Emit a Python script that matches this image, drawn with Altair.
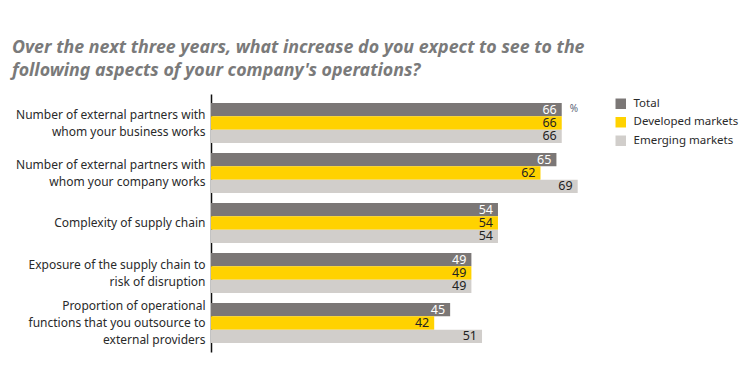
import altair as alt
import pandas as pd

categories = [
    "Number of external partners with|whom your business works",
    "Number of external partners with|whom your company works",
    "Complexity of supply chain",
    "Exposure of the supply chain to|risk of disruption",
    "Proportion of operational|functions that you outsource to|external providers",
]
series = ["Total", "Developed markets", "Emerging markets"]
total = [66, 65, 54, 49, 45]
developed = [66, 62, 54, 49, 42]
emerging = [66, 69, 54, 49, 51]
colors = ["#7b7776", "#ffd200", "#d1cecb"]
label_colors = ["#ffffff", "#222222", "#222222"]

rows = []
for i, c in enumerate(categories):
    for s, vals in zip(series, [total, developed, emerging]):
        rows.append({"aspect": c, "series": s, "value": vals[i]})
df = pd.DataFrame(rows)

FONT = "Noto Sans"
LH = 17

y_enc = alt.Y(
    "aspect:N",
    sort=categories,
    title=None,
    scale=alt.Scale(paddingInner=0.2, paddingOuter=0.18),
    axis=alt.Axis(
        labelExpr="split(datum.label, '|')",
        labelFont=FONT,
        labelFontSize=12,
        labelColor="#2a2a2a",
        labelLineHeight=LH,
        labelPadding=6,
        labelOffset={
            "condition": [
                {"test": "length(split(datum.value, '|')) == 3", "value": -LH},
                {"test": "length(split(datum.value, '|')) == 2", "value": -LH / 2},
            ],
            "value": 0,
        },
        ticks=False,
        domainColor="#111111",
        domainWidth=1.5,
        labelLimit=300,
    ),
)
yoff = alt.YOffset("series:N", sort=series, scale=alt.Scale(paddingInner=0, paddingOuter=0))
x_enc = alt.X("value:Q", scale=alt.Scale(domain=[0, 70]), axis=None)

bars = alt.Chart(df).mark_bar(size=13.3).encode(
    x=x_enc,
    y=y_enc,
    yOffset=yoff,
    color=alt.Color(
        "series:N",
        sort=series,
        scale=alt.Scale(domain=series, range=colors),
        legend=alt.Legend(
            title=None,
            orient="none",
            legendX=404,
            legendY=4,
            symbolType="square",
            symbolSize=110,
            symbolStrokeWidth=0,
            labelFont=FONT,
            labelFontSize=11.5,
            labelColor="#2a2a2a",
            labelOffset=7,
            rowPadding=5.5,
        ),
    ),
)

labels = alt.Chart(df).mark_text(
    align="right", baseline="middle", dx=-5, font=FONT, fontSize=12.5
).encode(
    x=x_enc,
    y=alt.Y("aspect:N", sort=categories),
    yOffset=yoff,
    text="value:Q",
    color=alt.Color("series:N", sort=series, scale=alt.Scale(domain=series, range=label_colors), legend=None),
)

pct = alt.Chart(pd.DataFrame({"aspect": [categories[0]], "series": ["Total"], "value": [total[0]], "t": ["%"]})).mark_text(
    align="left", baseline="middle", dx=8, dy=-1, font=FONT, fontSize=10, color="#5b6478"
).encode(
    x=x_enc,
    y=alt.Y("aspect:N", sort=categories),
    yOffset=yoff,
    text="t:N",
)

chart = (
    alt.layer(bars, labels, pct)
    .resolve_scale(color="independent")
    .properties(
        width=372,
        height=258,
        padding={"left": 203, "top": 86, "right": 157, "bottom": 4},
        autosize=alt.AutoSizeParams(type="none"),
        title=alt.Title(
            ["Over the next three years, what increase do you expect to see to the",
             "following aspects of your company's operations?"],
            anchor="start",
            frame="group",
            dx=-199,
            offset=14,
            font=FONT,
            fontSize=17.8,
            fontStyle="italic",
            fontWeight="bold",
            color="#7a7a7a",
            lineHeight=23,
        ),
    )
    .configure(background="#ffffff")
    .configure_view(stroke="transparent", strokeWidth=0)
)

chart.save("out.html", embed_options={"renderer": "svg", "actions": False})
